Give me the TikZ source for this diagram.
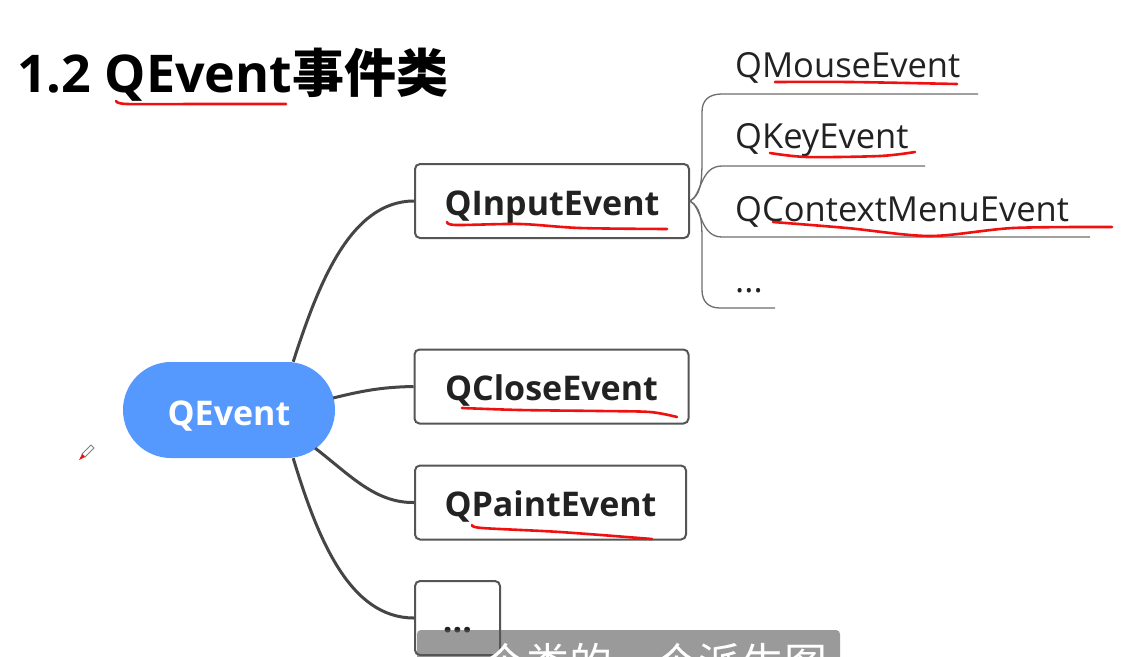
\documentclass[tikz,border=0pt]{standalone}
\usepackage{fontspec}
\setmainfont{Open Sans}
\newfontfamily\cjk{Noto Sans CJK SC}
\usetikzlibrary{calc}
\definecolor{qblue}{HTML}{5599FF}
\definecolor{boxline}{HTML}{555555}
\definecolor{linkgray}{HTML}{454545}
\definecolor{inkred}{HTML}{F01010}
\definecolor{subgray}{HTML}{585858}
\definecolor{textdark}{HTML}{222222}

\begin{document}
\begin{tikzpicture}[x=1pt, y=-1pt,
    evbox/.style={draw=boxline, line width=2pt, rounded corners=5pt,
      minimum width=274pt, minimum height=74pt, inner sep=0pt, text=textdark,
      font=\fontsize{34}{40}\selectfont\bfseries, text height=28pt, text depth=0pt},
    leaf/.style={anchor=base west, inner sep=0pt, text=textdark,
      font=\fontsize{34.5}{40}\selectfont},
    link/.style={draw=linkgray, line width=3pt},
    twig/.style={draw=boxline!85, line width=1.3pt},
    ink/.style={draw=inkred, line width=2.6pt, line cap=round, line join=round}]
    \useasboundingbox (0,0) rectangle (1129,656);
    \clip (0,0) rectangle (1129,656);
    \fill[white] (0,0) rectangle (1129,656);

    % title
    \node[anchor=base west, inner sep=0pt, font=\fontsize{52}{60}\selectfont\bfseries]
      (title) at (17,92) {1.2 QEvent{\cjk 事件类}};

    % root and first level
    \node[fill=qblue, rounded corners=48pt, minimum width=212pt, minimum height=96pt,
      inner sep=0pt, text=white, font=\fontsize{34}{40}\selectfont\bfseries,
      text height=30pt, text depth=0pt] (root) at (229,410) {QEvent};
    \node[evbox] (input) at (552,201) {QInputEvent};
    \node[evbox] (close) at (551.5,386.5) {QCloseEvent};
    \node[evbox, minimum width=271pt] (paint) at (550.5,502.5) {QPaintEvent};
    \node[evbox, minimum width=85pt] (more) at (457.5,618) {...};

    \draw[link] ($(root.north east)+(-42,0)$) .. controls (318,285) and (350,201) .. (input.west);
    \draw[link] ($(root.east)+(-2,-12)$) .. controls (365,390) and (385,387) .. (close.west);
    \draw[link] ($(root.south east)+(-20,-10)$) .. controls (350,475) and (375,503) .. (paint.west);
    \draw[link] ($(root.south east)+(-42,0)$) .. controls (318,540) and (350,618) .. (more.west);

    % second level
    \node[leaf] (mouse) at (735,77) {QMouseEvent};
    \node[leaf] (key) at (735,148) {QKeyEvent};
    \node[leaf] (context) at (735,221) {QContextMenuEvent};
    \node[leaf] (etc) at (735,292) {...};
    \coordinate (mouse-l) at (722,94);   \coordinate (mouse-r) at (978,94);
    \coordinate (key-l) at (722,166);    \coordinate (key-r) at (925,166);
    \coordinate (context-l) at (722,237); \coordinate (context-r) at (1090,237);
    \coordinate (etc-l) at (720,308);    \coordinate (etc-r) at (775,308);

    \draw[twig] (input.east) .. controls (700,195) and (702,185) .. (702,160)
      -- (702,112) .. controls (702,100) and (709,94) .. (mouse-l) -- (mouse-r);
    \draw[twig] (input.east) .. controls (702,195) and (700,166) .. (key-l) -- (key-r);
    \draw[twig] (input.east) .. controls (702,207) and (700,237) .. (context-l) -- (context-r);
    \draw[twig] (input.east) .. controls (700,207) and (702,217) .. (702,240)
      -- (702,290) .. controls (702,302) and (709,308) .. (etc-l) -- (etc-r);

    % red pen marks
    \draw[ink] plot[smooth] coordinates {(116,101) (127,104) (200,104) (286,104)};
    \draw[ink] plot[smooth] coordinates {(447,222) (456,225) (520,224) (580,228) (667,229)};
    \draw[ink] plot[smooth] coordinates {(462,408) (520,410) (600,411) (650,412) (677,417)};
    \draw[ink] plot[smooth] coordinates {(472,525) (482,528) (560,532) (652,539)};
    \draw[ink] plot[smooth] coordinates {(775,82) (850,82) (957,84)};
    \draw[ink] plot[smooth] coordinates {(770,153) (807,157) (880,156) (915,152)};
    \draw[ink] plot[smooth] coordinates {(773,222) (847,228) (930,236) (1013,228) (1112,227)};

    % pen cursor
    \draw[gray, line width=0.8pt, fill=white] (91,445) -- (94,448) -- (85,457) -- (82,454) -- cycle;
    \fill[inkred] (82,454) -- (85,457) -- (79,460) -- cycle;

    % caption bar
    \fill[subgray, fill opacity=0.6, rounded corners=4pt] (417,630) rectangle (840,700);
    \node[anchor=base, inner sep=0pt, text=white, font=\cjk\fontsize{43}{50}\selectfont]
      (caption) at (634,679) {一个类的一个派生图};
\end{tikzpicture}
\end{document}
